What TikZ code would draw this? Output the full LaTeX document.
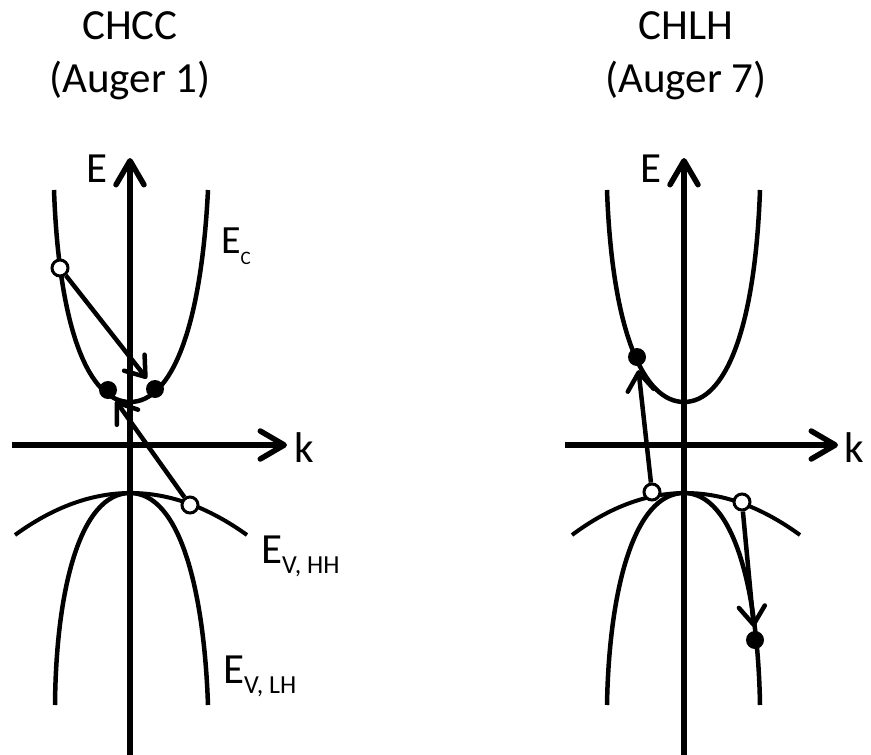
\documentclass[tikz,border=0pt]{standalone}
\usepackage{fontspec}
\setmainfont{Carlito}
\usetikzlibrary{arrows.meta}
\begin{document}
\begin{tikzpicture}[x=1pt,y=-1pt,
  axis/.style={line width=5.5pt, -{Straight Barb[length=24pt,width=28pt,round]}},
  band/.style={line width=4.5pt},
  hband/.style={line width=4pt},
  trans/.style={line width=4.5pt, -{Straight Barb[length=18pt,width=26pt,round]}, shorten >=4pt},
  hole/.style={circle, draw, line width=3pt, fill=white, minimum size=16pt, inner sep=0pt},
  elec/.style={circle, fill=black, minimum size=18pt, inner sep=0pt},
  big/.style={font=\fontsize{43}{50}\selectfont, inner sep=0pt},
  lab/.style={anchor=base west, inner sep=0pt},
]
\useasboundingbox (0,0) rectangle (871,755);

% ---------- left panel ----------
\begin{scope}[shift={(130,0)}]
  \coordinate (L-Ebot) at (0,755);
  \coordinate (L-Etop) at (0,158);
  \coordinate (L-kl) at (-118,445);
  \coordinate (L-kr) at (157,445);
  \draw[band] (-76,190) .. controls (-71,330) and (-41,402) .. (0,402)
              .. controls (41,402) and (71,330) .. (78,190);
  \draw[hband] (-115,535) .. controls (-38,479) and (39,479) .. (117,535);
  \draw[band] (-75,705) .. controls (-74,590) and (-50,493) .. (0,493)
              .. controls (50,493) and (74,590) .. (78,705);
  \draw[axis] (L-Ebot) -- (L-Etop);
  \draw[axis] (L-kl) -- (L-kr);
  \node[hole] (L-h1) at (-70,268) {};
  \node[elec] (L-d1) at (-22,390) {};
  \node[elec] (L-d2) at (25,389) {};
  \node[hole] (L-h2) at (60,505) {};
  \draw[trans] (L-h1) -- (L-d2);
  \draw[trans] (L-h2) -- (L-d1);
\end{scope}

% ---------- right panel ----------
\begin{scope}[shift={(684,0)}]
  \coordinate (R-Ebot) at (0,755);
  \coordinate (R-Etop) at (0,158);
  \coordinate (R-kl) at (-119,445);
  \coordinate (R-kr) at (154,445);
  \draw[band] (-77,190) .. controls (-72,330) and (-41,402) .. (0,402)
              .. controls (41,402) and (71,330) .. (76,190);
  \draw[hband] (-112,535) .. controls (-37,479) and (39,479) .. (116,535);
  \draw[band] (-77,705) .. controls (-75,590) and (-50,493) .. (0,493)
              .. controls (50,493) and (74,590) .. (76,705);
  \draw[axis] (R-Ebot) -- (R-Etop);
  \draw[axis] (R-kl) -- (R-kr);
  \node[hole] (R-h3) at (-32,492) {};
  \node[elec] (R-d3) at (-47,357) {};
  \node[hole] (R-h4) at (58,502) {};
  \node[elec] (R-d4) at (71,640) {};
  \draw[trans] (R-h3) -- (R-d3);
  \draw[trans] (R-h4) -- (R-d4);
\end{scope}

% ---------- labels ----------
\node[big, anchor=base] (t1a) at (130,39) {CHCC};
\node[big, anchor=base] (t1b) at (130,92) {(Auger 1)};
\node[big, anchor=base] (t2a) at (686,39) {CHLH};
\node[big, anchor=base] (t2b) at (686,92) {(Auger 7)};

\node[big, anchor=base] (L-E) at (97,182) {E};
\node[big, anchor=base] (L-k) at (304,462) {k};
\node[big, anchor=base] (R-E) at (651,182) {E};
\node[big, anchor=base] (R-k) at (854,462) {k};

\node[lab] (L-Ec) at (221,253) {{\fontsize{40}{40}\selectfont E}\raisebox{-11pt}{\fontsize{19}{19}\selectfont C}};
\node[lab] (L-Ehh) at (261,563) {{\fontsize{43}{43}\selectfont E}\raisebox{-10pt}{\fontsize{26}{26}\selectfont V, HH}};
\node[lab] (L-Elh) at (223,683) {{\fontsize{43}{43}\selectfont E}\raisebox{-10pt}{\fontsize{26}{26}\selectfont V, LH}};
\end{tikzpicture}
\end{document}
